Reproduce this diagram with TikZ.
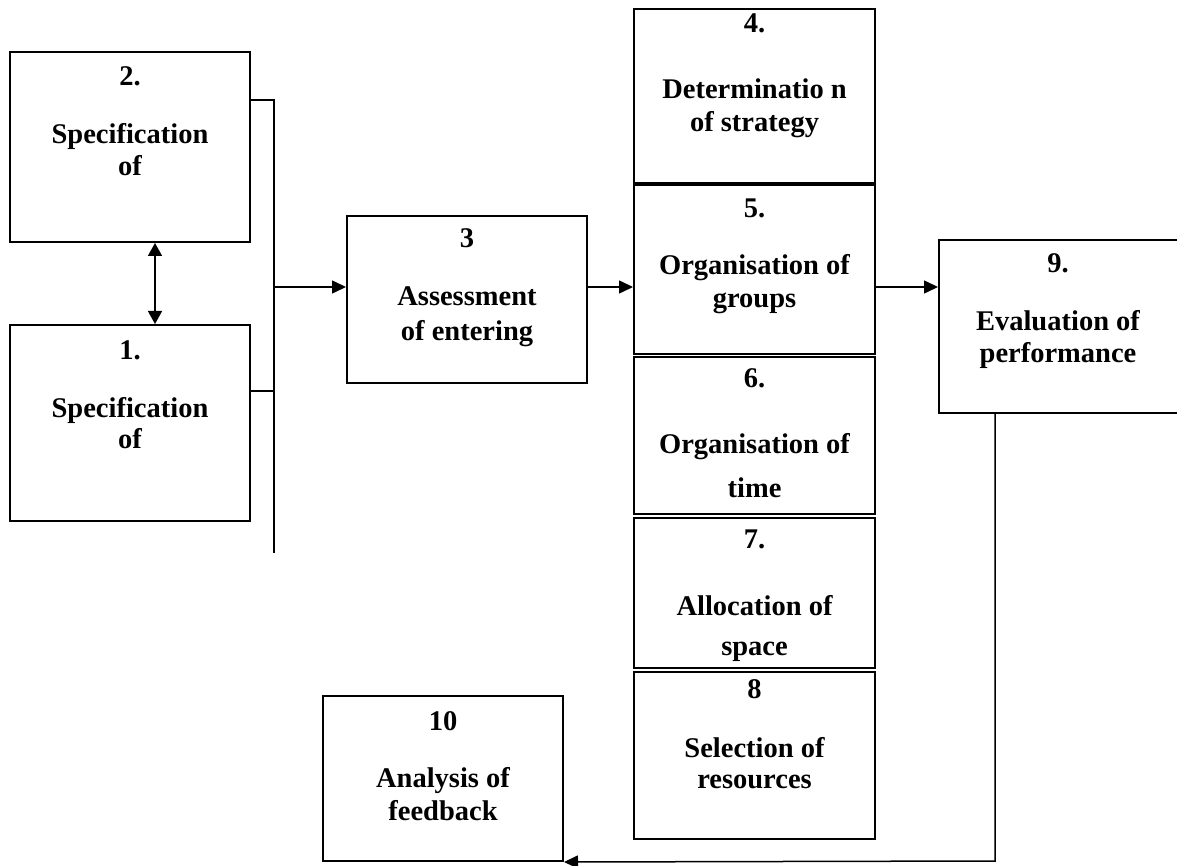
\documentclass[tikz,border=0pt]{standalone}
\usepackage{fontspec}
\setmainfont{Liberation Serif}
\usetikzlibrary{arrows.meta}
\begin{document}
\begin{tikzpicture}[x=1pt,y=-1pt,
  box/.style={draw=black,line width=2pt,inner sep=0pt,fill=none},
  lbl/.style={anchor=base,inner sep=0pt,align=center,font=\bfseries\fontsize{28.5}{#1}\selectfont},
  lbl/.default=32,
  conn/.style={draw=black,line width=1.5pt},
  arr/.style={conn,-{Triangle[length=14pt,width=13pt]}},
  darr/.style={conn,{Triangle[length=13pt,width=14pt]}-{Triangle[length=13pt,width=14pt]}}]
\useasboundingbox (0,0) rectangle (1177,866);
\clip (0,0) rectangle (1177,866);
% boxes
\node[box,minimum width=240pt,minimum height=190pt] (b2) at (130,147) {};
\node[box,minimum width=240pt,minimum height=196pt] (b1) at (130,423) {};
\node[box,minimum width=240pt,minimum height=167pt] (b3) at (467,299.5) {};
\node[box,minimum width=241pt,minimum height=174pt] (b4) at (754.5,96) {};
\node[box,minimum width=241pt,minimum height=168.5pt] (b5) at (754.5,269.75) {};
\node[box,minimum width=241pt,minimum height=157.5pt] (b6) at (754.5,435.25) {};
\node[box,minimum width=241pt,minimum height=150.5pt] (b7) at (754.5,592.75) {};
\node[box,minimum width=241pt,minimum height=167pt] (b8) at (754.5,755) {};
\node[box,minimum width=250pt,minimum height=173pt] (b9) at (1064,326.5) {};
\node[box,minimum width=240pt,minimum height=165pt] (b10) at (443,778.5) {};
% texts (title nodes anchored at the baseline of their last line)
\node[lbl] (n2) at (130,86) {2.};
\node[lbl=32] (t2) at (130,176) {Specification\\of};
\node[lbl] (n1) at (130,359) {1.};
\node[lbl=31] (t1) at (130,448) {Specification\\of};
\node[lbl] (n3) at (467,248) {3};
\node[lbl=35] (t3) at (467,340) {Assessment\\of entering};
\node[lbl] (n4) at (754.5,33) {4.};
\node[lbl=33] (t4) at (754.5,132) {Determinatio n\\of strategy};
\node[lbl] (n5) at (754.5,218) {5.};
\node[lbl=33] (t5) at (754.5,308) {Organisation of\\groups};
\node[lbl] (n6) at (754.5,387) {6.};
\node[lbl=44] (t6) at (754.5,497) {Organisation of\\time};
\node[lbl] (n7) at (754.5,548) {7.};
\node[lbl=40] (t7) at (754.5,655) {Allocation of\\space};
\node[lbl] (n8) at (754.5,698) {8};
\node[lbl=31] (t8) at (754.5,788) {Selection of\\resources};
\node[lbl] (n9) at (1058,273) {9.};
\node[lbl=32] (t9) at (1058,362) {Evaluation of\\performance};
\node[lbl] (n10) at (443,730) {10};
\node[lbl=33] (t10) at (443,820) {Analysis of\\feedback};
% connectors
\coordinate (bt) at (274,100);
\coordinate (bb) at (274,553);
\coordinate (j1) at (274,391);
\coordinate (ja) at (274,287);
\coordinate (dx) at (155,0);
\coordinate (fb) at (995,861);
\draw[conn] (b2.east |- bt) -- (bt) -- (bb);
\draw[conn] (b1.east |- j1) -- (j1);
\draw[arr] (ja) -- (ja -| b3.west);
\draw[darr] (b2.south -| dx) -- (b1.north -| dx);
\draw[arr] (b3.east |- ja) -- (b5.west |- ja);
\draw[arr] (b5.east |- ja) -- (b9.west |- ja);
\draw[arr] (b9.south -| fb) -- (fb) -- (b10.south east);
\end{tikzpicture}
\end{document}
